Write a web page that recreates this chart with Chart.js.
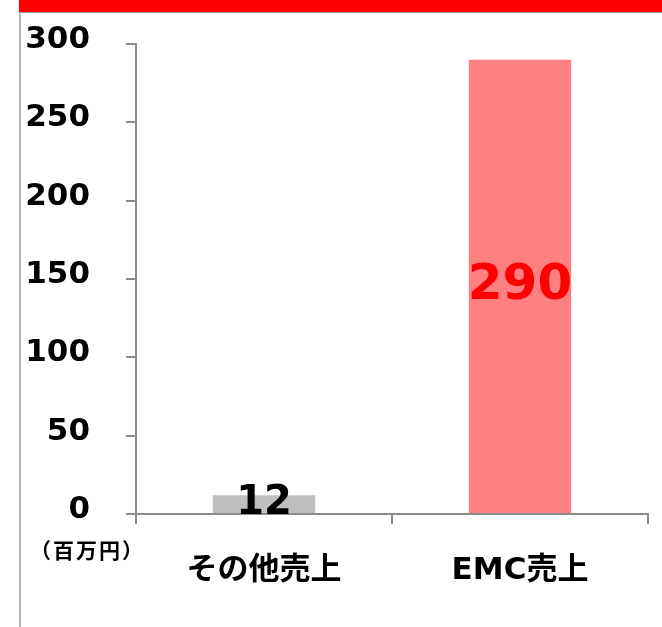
<!DOCTYPE html>
<html>
<head>
<meta charset="utf-8">
<script src="https://cdn.jsdelivr.net/npm/chart.js@4/dist/chart.umd.min.js"></script>
<style>
  html, body { margin: 0; padding: 0; background: #fff; }
  #wrap { position: relative; width: 662px; height: 627px; overflow: hidden; }
  #band { position: absolute; left: 19px; top: 0; right: 0; height: 12px; background: #ff0000; box-shadow: 0 1px 1px #a0a0a0; }
  #side { position: absolute; left: 19px; top: 12px; width: 2px; bottom: 0; background: #b4b4b4; }
  #unit { position: absolute; left: 30px; top: 534px; font: bold 21px "Noto Sans CJK JP", sans-serif; letter-spacing: 2px; color: #000; }
  canvas { position: absolute; left: 0; top: 0; }
</style>
</head>
<body>
<div id="wrap">
  <div id="band"></div>
  <div id="side"></div>
  <canvas id="salesChart" width="662" height="627"></canvas>
  <div id="unit">（百万円）</div>
</div>
<script>
const categories = ['その他売上', 'EMC売上'];
const sales = [12, 290];
const yTicks = [0, 50, 100, 150, 200, 250, 300];

const barColors = ['#bfbfbf', '#ff8080'];
const valueColors = ['#000000', '#ff0000'];
const valueSizes = [40, 50];

const axisGray = '#8c8c8c';
const latinFont = '"DejaVu Sans", "Noto Sans CJK JP", sans-serif';

// write each value in the middle of its bar
const barValues = {
  id: 'barValues',
  afterDatasetsDraw(chart) {
    const ctx = chart.ctx;
    const meta = chart.getDatasetMeta(0);
    ctx.save();
    ctx.textAlign = 'center';
    ctx.textBaseline = 'middle';
    meta.data.forEach((bar, i) => {
      ctx.font = 'bold ' + valueSizes[i] + 'px ' + latinFont;
      ctx.fillStyle = valueColors[i];
      const mid = (bar.y + bar.base) / 2;
      ctx.fillText(String(sales[i]), bar.x, mid);
    });
    ctx.restore();
  }
};

new Chart(document.getElementById('salesChart'), {
  type: 'bar',
  data: {
    labels: categories,
    datasets: [{
      data: sales,
      backgroundColor: barColors,
      borderWidth: 0,
      categoryPercentage: 1,
      barPercentage: 0.4
    }]
  },
  options: {
    responsive: false,
    animation: false,
    layout: { padding: { top: 44, right: 14, left: 0, bottom: 0 } },
    plugins: { legend: { display: false }, tooltip: { enabled: false } },
    scales: {
      x: {
        grid: { offset: true, drawOnChartArea: false, tickLength: 10, color: axisGray, lineWidth: 2 },
        border: { color: axisGray, width: 2 },
        ticks: { color: '#000', padding: 28, font: { family: latinFont, size: 31, weight: 'bold' } },
        afterFit(scale) { scale.height = 113; }
      },
      y: {
        min: 0,
        max: 300,
        afterBuildTicks(scale) { scale.ticks = yTicks.map(v => ({ value: v })); },
        grid: { drawOnChartArea: false, tickLength: 10, color: axisGray, lineWidth: 2 },
        border: { color: axisGray, width: 2 },
        ticks: { color: '#000', padding: 36, labelOffset: -4, font: { family: latinFont, size: 31, weight: 'bold' } },
        afterFit(scale) {
          scale.width = 136;
          // the wide label gap should not push the plot area down
          scale.paddingTop = 0;
          scale.paddingBottom = 0;
        }
      }
    }
  },
  plugins: [barValues]
});
</script>
</body>
</html>
